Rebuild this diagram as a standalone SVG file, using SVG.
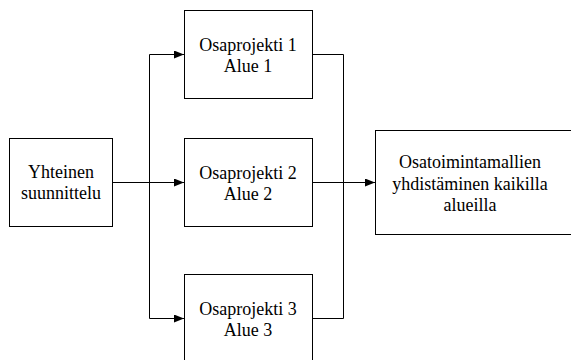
<svg xmlns="http://www.w3.org/2000/svg" width="571" height="360" viewBox="0 0 571 360">
<style>
.box{fill:#fff;stroke:#000;stroke-width:1}
.c{fill:none;stroke:#000;stroke-width:1}
</style>
<defs>
<marker id="ah" markerWidth="10" markerHeight="8" refX="10" refY="4" orient="auto" markerUnits="userSpaceOnUse">
<path d="M0,0 L10,4 L0,8 Z" fill="#000"/>
</marker>
</defs>
<rect width="571" height="360" fill="#fff"/>
<g font-family="Liberation Serif, serif" font-size="18" text-anchor="middle" fill="#000">
<g id="n-yhteinen">
<rect class="box" x="9.5" y="138.5" width="103" height="88"/>
<text x="61" y="178">Yhteinen</text>
<text x="61" y="199">suunnittelu</text>
</g>
<g id="n-osa1">
<rect class="box" x="184.5" y="10.5" width="128" height="88"/>
<text x="248" y="51">Osaprojekti 1</text>
<text x="248" y="72">Alue 1</text>
</g>
<g id="n-osa2">
<rect class="box" x="184.5" y="138.5" width="128" height="88"/>
<text x="248" y="179">Osaprojekti 2</text>
<text x="248" y="200">Alue 2</text>
</g>
<g id="n-osa3">
<rect class="box" x="184.5" y="274.5" width="128" height="100"/>
<text x="248" y="315">Osaprojekti 3</text>
<text x="248" y="336">Alue 3</text>
</g>
<g id="n-yhdistaminen">
<rect class="box" x="375.5" y="130.5" width="220" height="104"/>
<text x="470" y="168">Osatoimintamallien</text>
<text x="470" y="190">yhdistäminen kaikilla</text>
<text x="470" y="211">alueilla</text>
</g>
</g>
<g id="connectors">
<path class="c" d="M113,182.5 H184" marker-end="url(#ah)"/>
<path class="c" d="M149.5,182.5 V54.5 H184" marker-end="url(#ah)"/>
<path class="c" d="M149.5,182.5 V318.5 H184" marker-end="url(#ah)"/>
<path class="c" d="M313,54.5 H343.5 V318.5 H313"/>
<path class="c" d="M313,182.5 H375" marker-end="url(#ah)"/>
</g>
</svg>
